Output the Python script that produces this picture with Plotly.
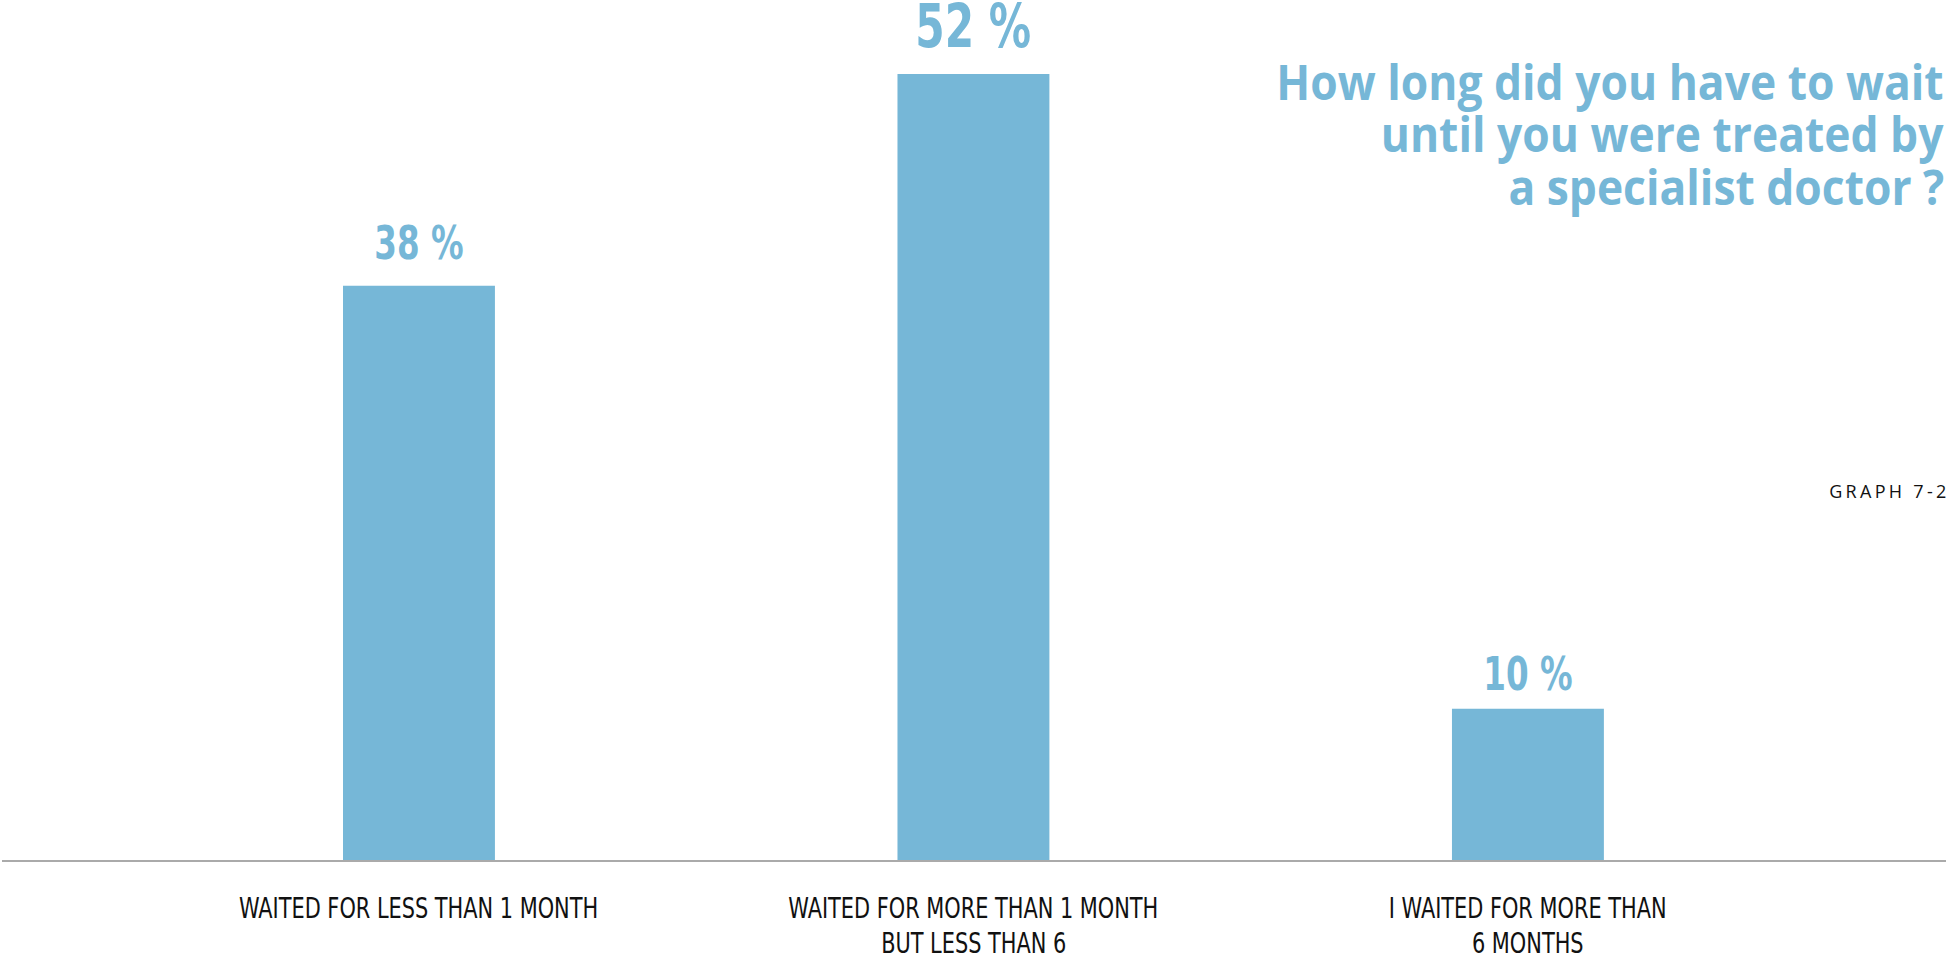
import json
import plotly.graph_objects as go

# Survey answers and their shares (percent)
categories = [
    "WAITED FOR LESS THAN 1 MONTH",
    "WAITED FOR MORE THAN 1 MONTH<br>BUT LESS THAN 6",
    "I WAITED FOR MORE THAN<br>6 MONTHS",
]
values = [38, 52, 10]
value_labels = ["38 %", "52 %", "10 %"]

title_lines = [
    "How long did you have to wait",
    "until you were treated by",
    "a specialist doctor ?",
]
graph_id = "GRAPH 7-2"

BLUE = "#76b7d7"
DARK = "#111111"
NARROW = "DejaVu Sans Condensed, Liberation Sans Narrow, sans-serif"
TITLE_FONT = "Open Sans, Noto Sans, sans-serif"

# gap (px) between each value label and the top of its bar
label_gaps = [14, 11, 6]

W, H = 1948, 955
x_pos = list(range(len(categories)))

fig = go.Figure(
    go.Bar(
        x=x_pos,
        y=values,
        width=0.274,
        marker=dict(color=BLUE, line=dict(width=0)),
        hoverinfo="skip",
    )
)

annotations = []
squeeze = []  # (annotation index, horizontal scale, transform origin, letter spacing)

# value labels above the bars; the tallest bar carries a larger label
for xi, v, lab, gap in zip(x_pos, values, value_labels, label_gaps):
    big = v == max(values)
    squeeze.append(dict(i=len(annotations), s=0.77, o="center center", ls=""))
    annotations.append(dict(
        x=xi, y=v, xref="x", yref="y", text=lab, showarrow=False,
        xanchor="center", yanchor="bottom", yshift=gap,
        font=dict(family=NARROW, size=61 if big else 47, color=BLUE, weight="bold"),
    ))

# category labels under the baseline, one annotation per text line
for xi, cat in zip(x_pos, categories):
    for k, line in enumerate(cat.split("<br>")):
        squeeze.append(dict(i=len(annotations), s=0.80, o="center center", ls=""))
        annotations.append(dict(
            x=xi, y=0, xref="x", yref="y", text=line, showarrow=False,
            xanchor="center", yanchor="middle", yshift=-48 - 35 * k,
            font=dict(family=NARROW, size=29, color=DARK),
        ))

# right-aligned question in the top-right corner
for k, line in enumerate(title_lines):
    squeeze.append(dict(i=len(annotations), s=0.925, o="right center", ls=""))
    annotations.append(dict(
        x=1.0, y=1.0, xref="paper", yref="paper", text=line, showarrow=False,
        xanchor="right", yanchor="middle", yshift=-81 - 52.5 * k,
        font=dict(family=TITLE_FONT, size=48, color=BLUE, weight="bold"),
    ))

squeeze.append(dict(i=len(annotations), s=1.0, o="center center", ls="3.3px"))
annotations.append(dict(
    x=1.0, y=1.0, xref="paper", yref="paper", text=graph_id, showarrow=False,
    xanchor="right", yanchor="middle", yshift=-491, xshift=-9,
    font=dict(family=TITLE_FONT, size=18, color=DARK),
))

fig.update_layout(
    width=W, height=H,
    margin=dict(l=2, r=2, t=0, b=95, pad=0),
    paper_bgcolor="white", plot_bgcolor="white",
    showlegend=False,
    annotations=annotations,
    xaxis=dict(
        range=[-0.752, 2.754], showgrid=False, zeroline=False,
        showticklabels=False, ticks="", showline=True,
        linecolor="#aaaaaa", linewidth=2, fixedrange=True,
    ),
    yaxis=dict(
        range=[0, 56.9], showgrid=False, zeroline=False,
        showticklabels=False, ticks="", showline=False, fixedrange=True,
    ),
)

# condensed lettering: narrow the label glyphs horizontally, widen the id spacing
post = """
var gd = document.getElementById('{plot_id}');
var specs = %s;
function condense() {
  specs.forEach(function (s) {
    var t = gd.querySelector('g.annotation[data-index="' + s.i + '"] text.annotation-text');
    if (!t) return;
    if (s.s !== 1) {
      t.style.transformBox = 'fill-box';
      t.style.transformOrigin = s.o;
      t.style.transform = 'scaleX(' + s.s + ')';
    }
    if (s.ls) t.style.letterSpacing = s.ls;
  });
}
condense();
gd.on('plotly_afterplot', condense);
""" % json.dumps(squeeze)

fig.write_html("out.html", post_script=post, config={"displayModeBar": False})
